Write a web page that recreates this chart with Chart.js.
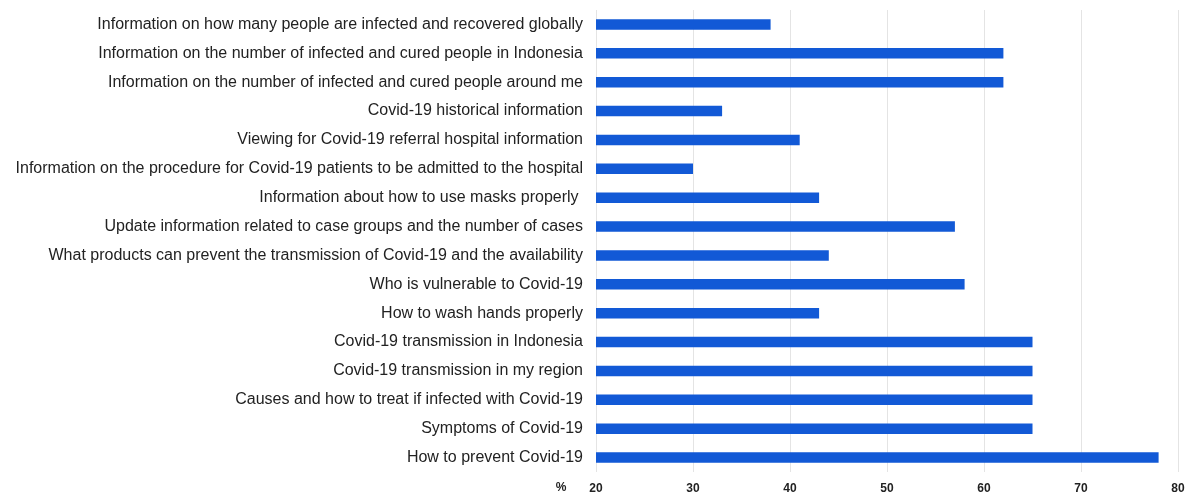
<!DOCTYPE html>
<html>
<head>
<meta charset="utf-8">
<script src="https://cdn.jsdelivr.net/npm/chart.js@4"></script>
<style>
  html, body { margin: 0; padding: 0; background: #fff; }
  #chart { display: block; }
</style>
</head>
<body>
<canvas id="chart" width="1186" height="494"></canvas>
<script>
// Temas de información buscados (%)
var temas = [
    "Information on how many people are infected and recovered globally",
    "Information on the number of infected and cured people in Indonesia",
    "Information on the number of infected and cured people around me",
    "Covid-19 historical information",
    "Viewing for Covid-19 referral hospital information",
    "Information on the procedure for Covid-19 patients to be admitted to the hospital",
    "Information about how to use masks properly ",
    "Update information related to case groups and the number of cases",
    "What products can prevent the transmission of Covid-19 and the availability",
    "Who is vulnerable to Covid-19",
    "How to wash hands properly",
    "Covid-19 transmission in Indonesia",
    "Covid-19 transmission in my region",
    "Causes and how to treat if infected with Covid-19",
    "Symptoms of Covid-19",
    "How to prevent Covid-19"
];
var porcentajes = [38, 62, 62, 33, 41, 30, 43, 57, 44, 58, 43, 65, 65, 65, 65, 78];
var ticksX = [20, 30, 40, 50, 60, 70, 80];

// Dibuja el "%" a la izquierda de las etiquetas del eje X
var etiquetaPorcentaje = {
    id: "etiquetaPorcentaje",
    afterDraw: function(chart) {
        var ctx = chart.ctx;
        var x = chart.scales.x;
        ctx.save();
        ctx.font = "bold 12px 'Liberation Sans', Arial, sans-serif";
        ctx.fillStyle = "#222";
        ctx.textAlign = "center";
        ctx.textBaseline = "middle";
        ctx.fillText("%", x.left - 35, x.top + 16);
        ctx.restore();
    }
};

var ctx = document.getElementById("chart").getContext("2d");
var chart = new Chart(ctx, {
    type: "bar",
    data: {
        labels: temas,
        datasets: [{
            data: porcentajes,
            backgroundColor: "#1259d6",
            borderWidth: 0,
            categoryPercentage: 0.36,
            barPercentage: 1
        }]
    },
    plugins: [etiquetaPorcentaje],
    options: {
        indexAxis: "y",
        responsive: false,
        animation: false,
        layout: { padding: { top: 10, right: 8, bottom: 0, left: 0 } },
        plugins: {
            legend: { display: false },
            tooltip: { enabled: false }
        },
        scales: {
            x: {
                min: 20,
                max: 80,
                afterBuildTicks: function(scale) {
                    scale.ticks = ticksX.map(v => ({ value: v }));
                },
                afterFit: function(scale) {
                    scale.height = 22;
                    scale.paddingLeft = 0;
                    scale.paddingRight = 0;
                },
                grid: { color: "#e4e4e4", drawTicks: false },
                border: { display: false },
                ticks: {
                    padding: 9,
                    color: "#222",
                    font: { family: "'Liberation Sans', Arial, sans-serif", size: 12, weight: "bold" }
                }
            },
            y: {
                afterFit: function(scale) {
                    scale.width = 596;
                    scale.paddingTop = 0;
                    scale.paddingBottom = 0;
                },
                grid: { display: false, drawTicks: false },
                border: { display: false },
                ticks: {
                    padding: 13,
                    autoSkip: false,
                    color: "#222",
                    font: { family: "'Liberation Sans', Arial, sans-serif", size: 16 }
                }
            }
        }
    }
});
</script>
</body>
</html>
